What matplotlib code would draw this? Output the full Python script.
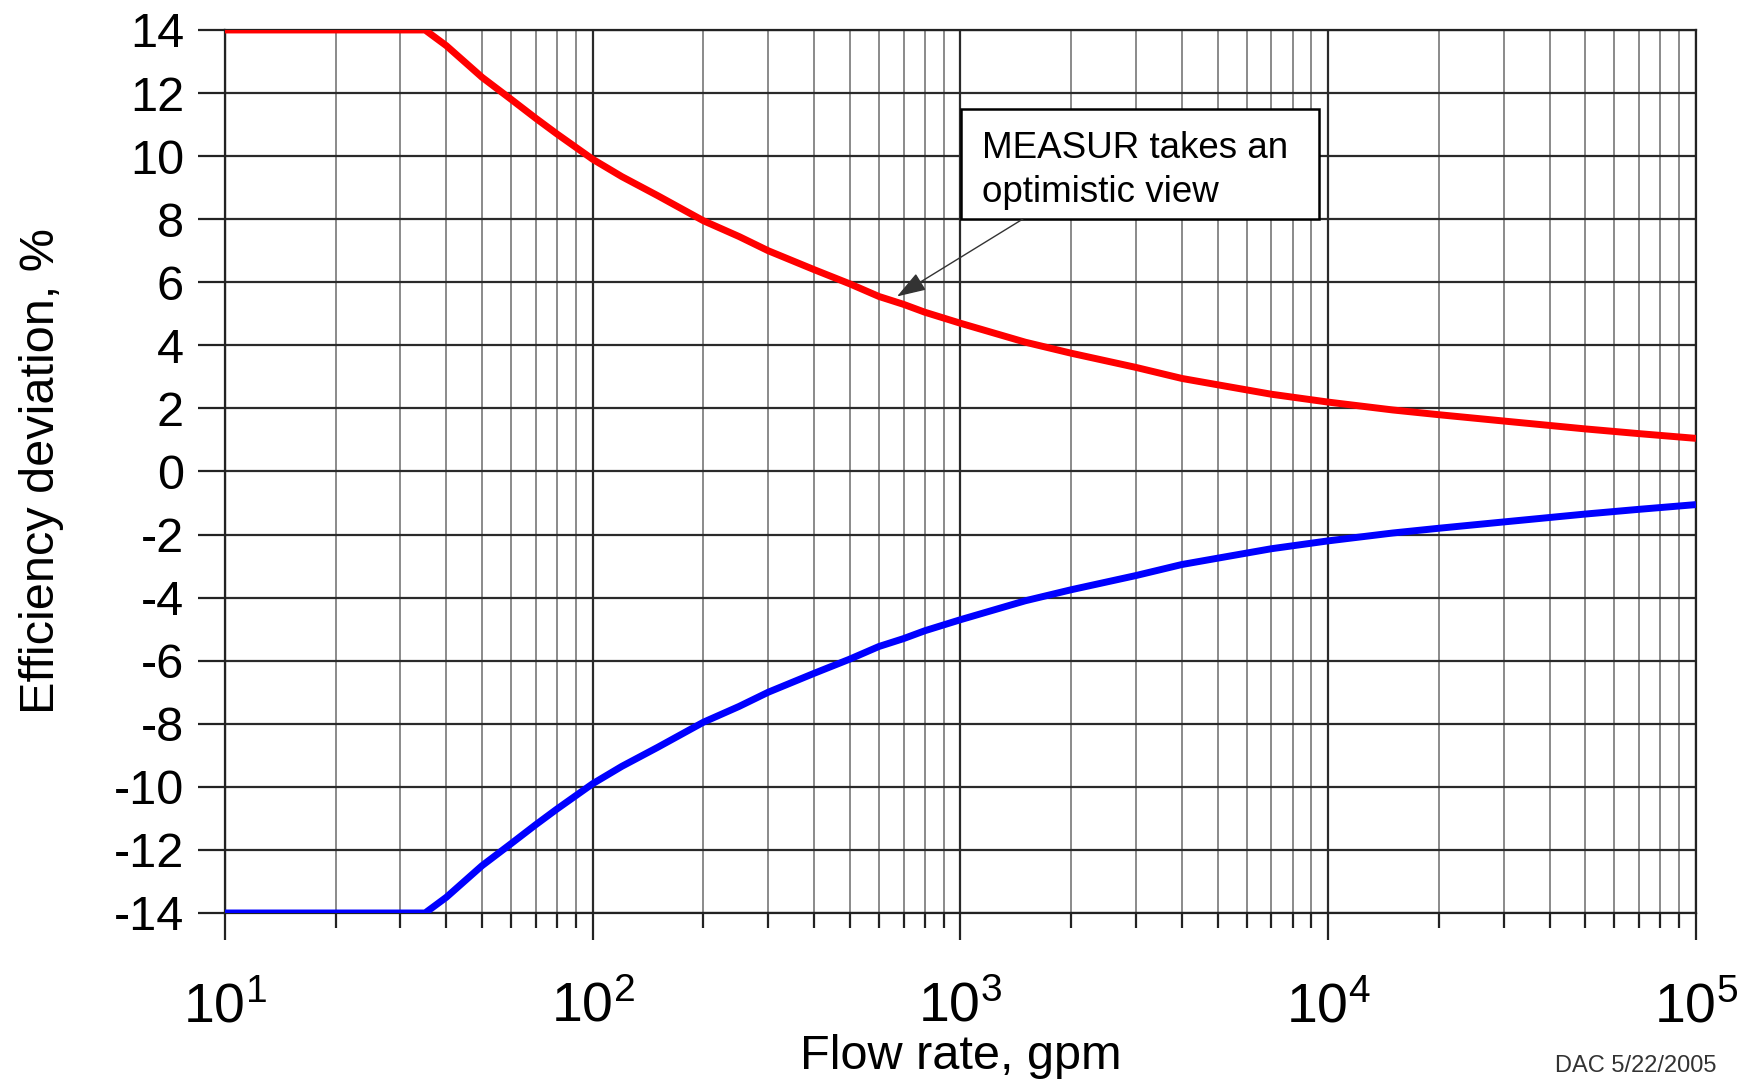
import numpy as np
import matplotlib
matplotlib.use("Agg")
import matplotlib.pyplot as plt
from matplotlib.ticker import LogLocator, FixedLocator
from matplotlib.patches import Rectangle

plt.rcParams['font.family'] = ['Liberation Sans', 'DejaVu Sans']
plt.rcParams['mathtext.fontset'] = 'custom'
plt.rcParams['mathtext.rm'] = 'Liberation Sans'
plt.rcParams['mathtext.it'] = 'Liberation Sans:italic'
plt.rcParams['axes.unicode_minus'] = False

# flow rate (gpm) and the +/- efficiency deviation envelope (%)
flow = [10, 35, 40, 50, 60, 70, 80, 100, 120, 150, 200, 250, 300, 400, 500,
        600, 700, 800, 1000, 1500, 2000, 3000, 4000, 5000, 7000, 10000,
        15000, 20000, 30000, 50000, 70000, 100000]
upper = [14.0, 14.0, 13.5, 12.5, 11.8, 11.2, 10.7, 9.9, 9.35, 8.75, 7.95, 7.45,
         7.0, 6.4, 5.95, 5.55, 5.3, 5.05, 4.7, 4.1, 3.75, 3.3, 2.95, 2.75,
         2.45, 2.2, 1.95, 1.8, 1.6, 1.35, 1.2, 1.05]
lower = [-v for v in upper]

y_ticks = list(range(-14, 15, 2))

note_text = "MEASUR takes an\noptimistic view"
note_xy = (672, 5.55)
stamp = "DAC 5/22/2005"

fig = plt.figure(figsize=(17.4, 10.82), dpi=100)
ax = fig.add_axes([0.1293, 0.1562, 0.8454, 0.8161])

ax.plot(flow, upper, color='#ff0000', lw=5, solid_capstyle='butt', zorder=3)
ax.plot(flow, lower, color='#0000ff', lw=5, solid_capstyle='butt', zorder=3)

ax.set_xscale('log')
ax.set_xlim(10, 1e5)
ax.set_ylim(-14, 14)
ax.yaxis.set_major_locator(FixedLocator(y_ticks))
ax.xaxis.set_major_locator(LogLocator(base=10, numticks=10))
ax.xaxis.set_minor_locator(LogLocator(base=10, subs=np.arange(2, 10), numticks=20))

# grid
ax.grid(True, which='major', color='#2a2a2a', lw=1.6)
ax.grid(True, which='minor', axis='x', color='#8a8a8a', lw=1.4)
ax.set_axisbelow(True)

for s in ax.spines.values():
    s.set_linewidth(1.6)
    s.set_color('#222222')

ax.tick_params(axis='both', which='major', direction='out', length=19.5,
               width=1.6, color='#222222')
ax.tick_params(axis='x', which='major', pad=30, labelsize=40)
ax.tick_params(axis='y', which='major', pad=10, labelsize=35)
ax.tick_params(axis='x', which='minor', direction='out', length=10.5,
               width=1.6, color='#222222')

ax.set_xlabel('Flow rate, gpm', fontsize=35, labelpad=0)
ax.set_ylabel('Efficiency deviation, %', fontsize=35, labelpad=36)

# note box with arrow pointing at the upper curve
ax.add_patch(Rectangle((0.5003, 0.786), 0.2434, 0.1245, transform=ax.transAxes,
                       fc='white', ec='black', lw=1.8, zorder=5))
ax.text(0.5146, 0.886, note_text, transform=ax.transAxes, ha='left', va='top',
        fontsize=26.5, linespacing=1.35, zorder=6)
ax.annotate('', xy=note_xy, xycoords='data',
            xytext=(0.5425, 0.786), textcoords='axes fraction',
            arrowprops=dict(arrowstyle='-|>,head_length=0.6,head_width=0.2',
                            color='#333333', lw=1.0, mutation_scale=30,
                            shrinkA=0, shrinkB=0),
            zorder=5)

fig.text(1717 / 1740, 1 - 1072 / 1082, stamp, ha='right', va='baseline',
         fontsize=17, color='#333333')

fig.savefig('out.png', dpi=100)
